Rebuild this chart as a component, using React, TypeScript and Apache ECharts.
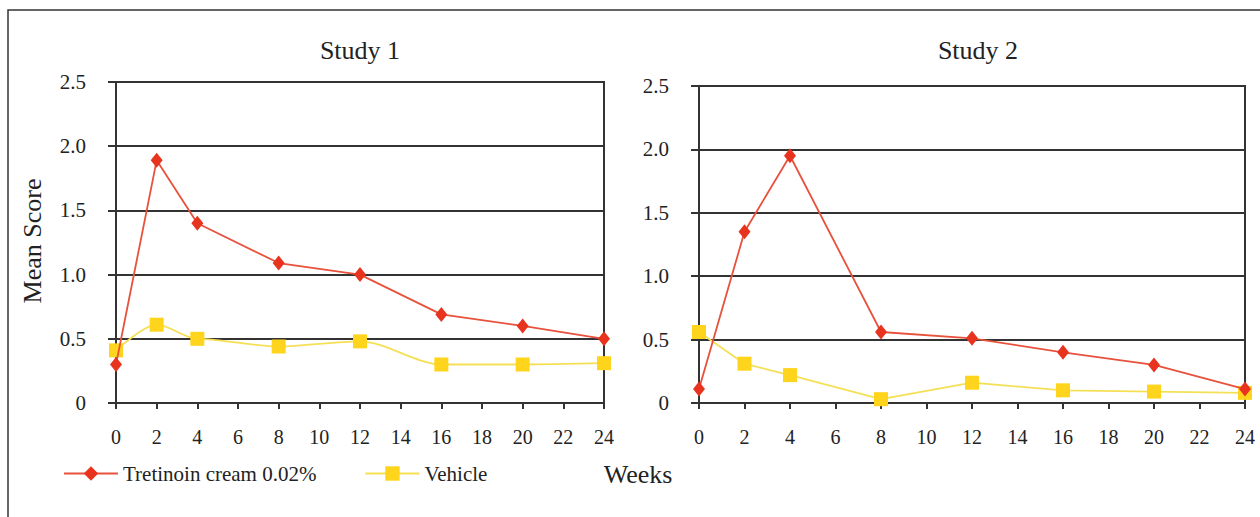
import React, { useEffect, useRef } from "react";
import * as echarts from "echarts";

const weeks = [0, 2, 4, 8, 12, 16, 20, 24];
const study1Tretinoin = [0.3, 1.89, 1.4, 1.09, 1.0, 0.69, 0.6, 0.5];
const study1Vehicle = [0.41, 0.61, 0.5, 0.44, 0.48, 0.3, 0.3, 0.31];
const study2Tretinoin = [0.11, 1.35, 1.95, 0.56, 0.51, 0.4, 0.3, 0.11];
const study2Vehicle = [0.56, 0.31, 0.22, 0.03, 0.16, 0.1, 0.09, 0.08];
const titles = ["Study 1", "Study 2"];
const seriesNames = ["Tretinoin cream 0.02%", "Vehicle"];

const FONT = "Liberation Serif";
const RED_LINE = "#e8513c";
const RED_MARK = "#e8341f";
const YEL_LINE = "#f5e055";
const YEL_MARK = "#ffd41c";
const GRID = "#333333";

const pairs = (ys: number[]) => weeks.map((w, i) => [w, ys[i]]);

export default function App() {
  const ref = useRef<HTMLDivElement>(null);
  useEffect(() => {
    if (!ref.current) return;
    const chart = echarts.init(ref.current, undefined, { renderer: "svg" });
    const grids = [
      { left: 116, right: 656, top: 82, bottom: 114 },
      { left: 699, right: 15, top: 86, bottom: 114 },
    ];
    const xAxis = grids.map((_, i) => ({
      type: "value",
      gridIndex: i,
      min: 0,
      max: 24,
      interval: 2,
      axisLine: { show: true, onZero: false, lineStyle: { color: GRID, width: 2 } },
      axisTick: { show: true, length: 6, lineStyle: { color: GRID, width: 2 } },
      axisLabel: { fontFamily: FONT, fontSize: 20, color: "#222", margin: 24 },
      splitLine: { show: false },
    }));
    const yAxis = grids.map((_, i) => ({
      type: "value",
      gridIndex: i,
      min: 0,
      max: 2.5,
      interval: 0.5,
      axisLine: { show: true, lineStyle: { color: GRID, width: 2 } },
      axisTick: { show: true, length: 8, lineStyle: { color: GRID, width: 2 } },
      axisLabel: {
        fontFamily: FONT,
        fontSize: 21,
        color: "#222",
        margin: 30,
        formatter: (v: number) => (v === 0 ? "0" : v.toFixed(1)),
      },
      splitLine: { show: true, lineStyle: { color: GRID, width: 2 } },
    }));
    const mk = (name: string, data: number[], idx: number, red: boolean, smooth: any) => ({
      name,
      type: "line",
      xAxisIndex: idx,
      yAxisIndex: idx,
      data: pairs(data),
      smooth,
      smoothMonotone: "x",
      symbol: red ? "diamond" : "rect",
      symbolSize: red ? [12, 15] : [14, 14],
      lineStyle: { color: red ? RED_LINE : YEL_LINE, width: 1.8 },
      itemStyle: { color: red ? RED_MARK : YEL_MARK },
      z: red ? 3 : 2,
    });
    chart.setOption({
      animation: false,
      backgroundColor: "#ffffff",
      title: [
        { text: titles[0], left: 355, top: 32, textAlign: "center", textStyle: { fontFamily: FONT, fontSize: 26, fontWeight: "normal", color: "#222" } },
        { text: titles[1], left: 973, top: 32, textAlign: "center", textStyle: { fontFamily: FONT, fontSize: 26, fontWeight: "normal", color: "#222" } },
      ],
      legend: {
        data: seriesNames,
        left: 58,
        top: 458,
        itemWidth: 54,
        itemHeight: 18,
        itemGap: 48,
        textStyle: { fontFamily: FONT, fontSize: 21, color: "#222" },
      },
      grid: grids.map((g) => ({ ...g, show: true, borderColor: GRID, borderWidth: 2, containLabel: false })),
      xAxis,
      yAxis,
      series: [
        mk(seriesNames[0], study1Tretinoin, 0, true, false),
        mk(seriesNames[1], study1Vehicle, 0, false, 0.3),
        mk(seriesNames[0], study2Tretinoin, 1, true, false),
        mk(seriesNames[1], study2Vehicle, 1, false, false),
      ],
      graphic: [
        { type: "rect", shape: { x: 8, y: 10, width: 1400, height: 700 }, style: { fill: "none", stroke: GRID, lineWidth: 1.5 }, silent: true },
        { type: "text", x: 32, y: 241, rotation: Math.PI / 2, style: { text: "Mean Score", fontFamily: FONT, fontSize: 26, fill: "#222", textAlign: "center", textVerticalAlign: "middle" } },
        { type: "text", x: 638, y: 474, style: { text: "Weeks", fontFamily: FONT, fontSize: 26, fill: "#222", textAlign: "center", textVerticalAlign: "middle" } },
      ],
    });
    return () => chart.dispose();
  }, []);
  return <div ref={ref} style={{ position: "absolute", left: 0, top: 0, width: 1260, height: 517 }} />;
}
